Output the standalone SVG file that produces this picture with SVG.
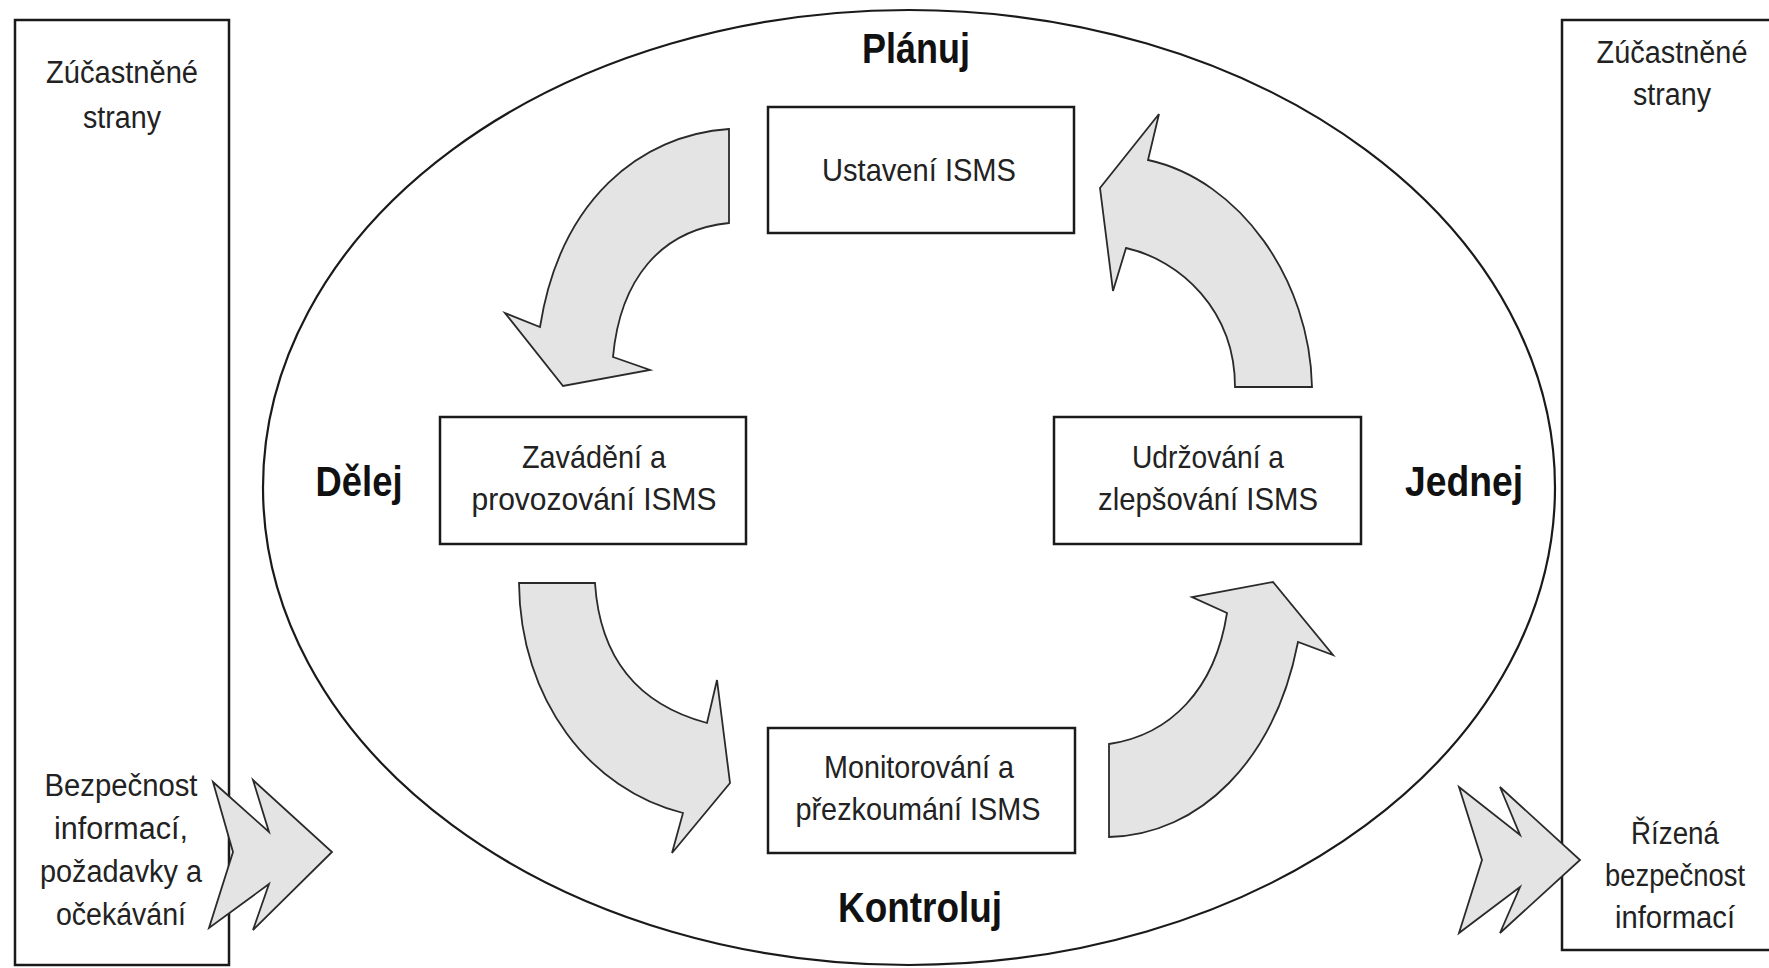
<svg xmlns="http://www.w3.org/2000/svg" width="1769" height="968" viewBox="0 0 1769 968">
<style>
.bg{fill:#ffffff}
.box{fill:#ffffff;stroke:#1a1a1a;stroke-width:2.5}
.side{fill:#ffffff;stroke:#1a1a1a;stroke-width:2.5}
.ell{fill:none;stroke:#1a1a1a;stroke-width:2.2}
.arr{fill:#e4e4e4;stroke:#2a2a2a;stroke-width:1.8;stroke-linejoin:miter}
.t{font-family:"Liberation Sans",Arial,sans-serif;font-size:32px;fill:#222;text-anchor:middle}
.s{font-family:"Liberation Sans",Arial,sans-serif;font-size:31px;fill:#222;text-anchor:middle}
.b{font-family:"Liberation Sans",Arial,sans-serif;font-size:42px;font-weight:bold;fill:#111;text-anchor:middle}
</style>
<rect class="bg" x="0" y="0" width="1769" height="968"/>

<g id="cycle">
  <ellipse class="ell" cx="909" cy="487.5" rx="646" ry="477.5"/>
</g>

<g id="left-parties">
  <rect class="side" x="15" y="20" width="214" height="945"/>
  <text class="s" x="122" y="83" textLength="152" lengthAdjust="spacingAndGlyphs">Zúčastněné</text>
  <text class="s" x="122" y="128" textLength="78" lengthAdjust="spacingAndGlyphs">strany</text>
  <text class="s" x="121" y="796" textLength="153" lengthAdjust="spacingAndGlyphs">Bezpečnost</text>
  <text class="s" x="121" y="839" textLength="134" lengthAdjust="spacingAndGlyphs">informací,</text>
  <text class="s" x="121" y="882" textLength="162" lengthAdjust="spacingAndGlyphs">požadavky a</text>
  <text class="s" x="121" y="925" textLength="130" lengthAdjust="spacingAndGlyphs">očekávání</text>
</g>

<g id="right-parties">
  <rect class="side" x="1562" y="20" width="230" height="930"/>
  <text class="s" x="1672" y="63" textLength="151" lengthAdjust="spacingAndGlyphs">Zúčastněné</text>
  <text class="s" x="1672" y="105" textLength="78" lengthAdjust="spacingAndGlyphs">strany</text>
  <text class="s" x="1675" y="844" textLength="88" lengthAdjust="spacingAndGlyphs">Řízená</text>
  <text class="s" x="1675" y="886" textLength="140" lengthAdjust="spacingAndGlyphs">bezpečnost</text>
  <text class="s" x="1675" y="928" textLength="120" lengthAdjust="spacingAndGlyphs">informací</text>
</g>

<g id="phase-labels">
  <text class="b" x="916" y="63" textLength="108" lengthAdjust="spacingAndGlyphs">Plánuj</text>
  <text class="b" x="359" y="496" textLength="87" lengthAdjust="spacingAndGlyphs">Dělej</text>
  <text class="b" x="1464" y="496" textLength="118" lengthAdjust="spacingAndGlyphs">Jednej</text>
  <text class="b" x="920" y="922" textLength="164" lengthAdjust="spacingAndGlyphs">Kontroluj</text>
</g>

<g id="establish">
  <rect class="box" x="768" y="107" width="306" height="126"/>
  <text class="t" x="919" y="181" textLength="194" lengthAdjust="spacingAndGlyphs">Ustavení ISMS</text>
</g>

<g id="implement">
  <rect class="box" x="440" y="417" width="306" height="127"/>
  <text class="t" x="594" y="468" textLength="144" lengthAdjust="spacingAndGlyphs">Zavádění a</text>
  <text class="t" x="594" y="510" textLength="245" lengthAdjust="spacingAndGlyphs">provozování ISMS</text>
</g>

<g id="maintain">
  <rect class="box" x="1054" y="417" width="307" height="127"/>
  <text class="t" x="1208" y="468" textLength="152" lengthAdjust="spacingAndGlyphs">Udržování a</text>
  <text class="t" x="1208" y="510" textLength="220" lengthAdjust="spacingAndGlyphs">zlepšování ISMS</text>
</g>

<g id="monitor">
  <rect class="box" x="768" y="728" width="307" height="125"/>
  <text class="t" x="919" y="778" textLength="190" lengthAdjust="spacingAndGlyphs">Monitorování a</text>
  <text class="t" x="918" y="820" textLength="245" lengthAdjust="spacingAndGlyphs">přezkoumání ISMS</text>
</g>

<g id="connectors">
  <path class="arr" d="M729,129 C640,135 560,200 540,327 L505,313 L563,386 L650,370 L613,357 C620,280 660,230 729,223 Z"/>
  <path class="arr" d="M1235,387 L1312,387 C1310,280 1240,180 1148,160 L1159,114 L1100,188 L1113,291 L1126,248 C1180,260 1235,310 1235,387 Z"/>
  <path class="arr" d="M519,583 L595,583 C600,660 640,705 707,723 L717,680 L730,783 L672,853 L683,813 C590,790 520,700 519,583 Z"/>
  <path class="arr" d="M1109,744 C1170,735 1215,690 1227,613 L1192,597 L1273,582 L1333,655 L1298,642 C1275,760 1200,835 1109,837 Z"/>
  <path class="arr" d="M213,782 L269,832 L253,780 L332,852 L253,930 L269,884 L209,928 L233,852 Z"/>
  <path class="arr" d="M1459,787 L1520,835 L1500,787 L1580,860 L1500,933 L1520,887 L1459,933 L1482,860 Z"/>
</g>
</svg>
